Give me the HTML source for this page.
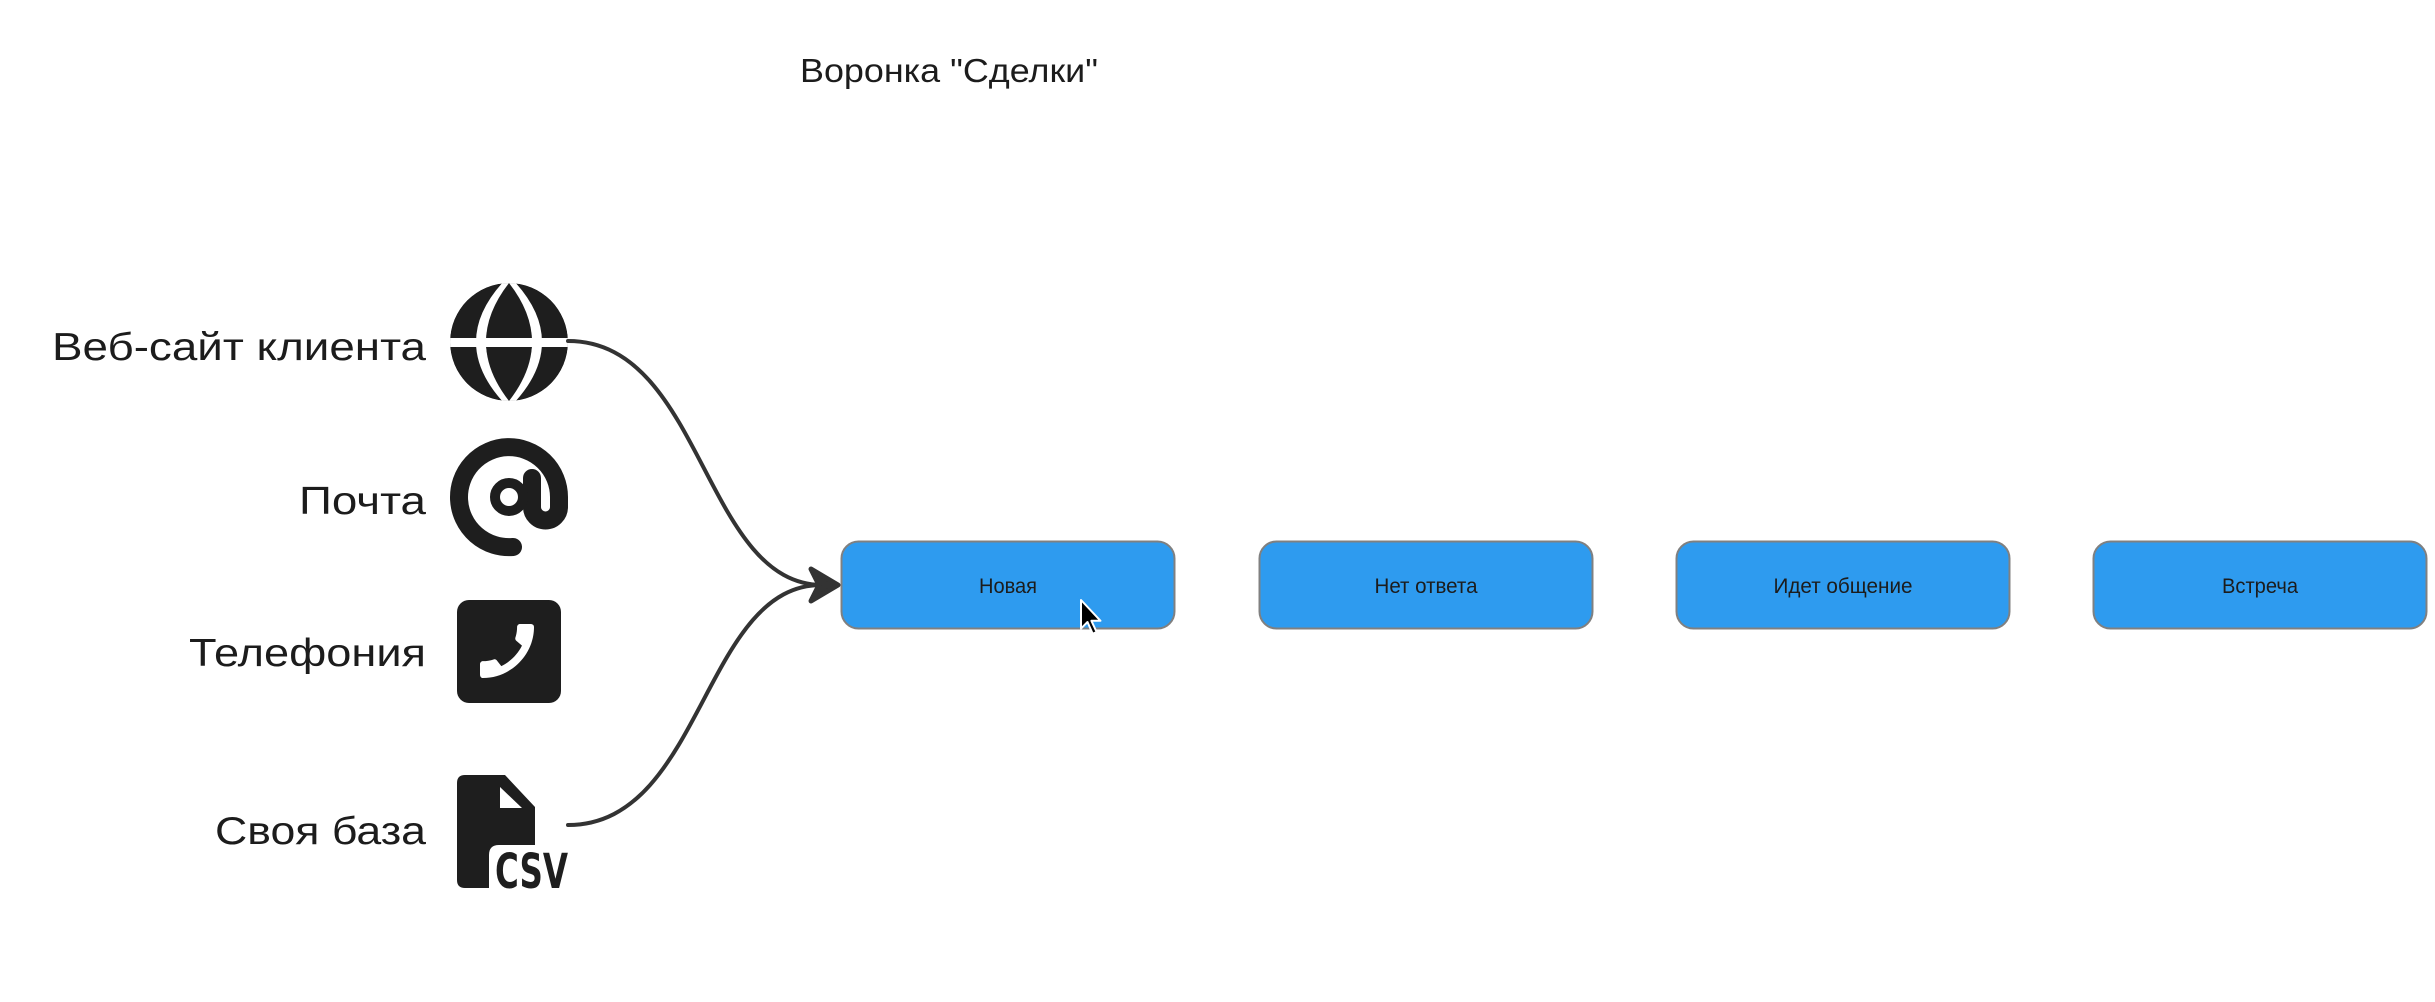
<!DOCTYPE html>
<html>
<head>
<meta charset="utf-8">
<style>
  html, body { margin:0; padding:0; background:#ffffff; }
  body { width:2435px; height:1002px; overflow:hidden; }
  svg { display:block; }
  text { font-family: "Liberation Sans", "DejaVu Sans", sans-serif; fill:#1c1c1c; }
</style>
</head>
<body>
<svg width="2435" height="1002" viewBox="0 0 2435 1002" xmlns="http://www.w3.org/2000/svg">
  <defs>
    <clipPath id="globeClip"><circle cx="509" cy="342" r="59"/></clipPath>
  </defs>

  <!-- Title -->
  <text x="800" y="82" font-size="33" textLength="298" lengthAdjust="spacingAndGlyphs">Воронка "Сделки"</text>

  <!-- Left labels -->
  <text x="426" y="360" font-size="39" text-anchor="end" textLength="374" lengthAdjust="spacingAndGlyphs">Веб-сайт клиента</text>
  <text x="426" y="514" font-size="39" text-anchor="end" textLength="127" lengthAdjust="spacingAndGlyphs">Почта</text>
  <text x="426" y="666" font-size="39" text-anchor="end" textLength="237" lengthAdjust="spacingAndGlyphs">Телефония</text>
  <text x="426" y="844" font-size="39" text-anchor="end" textLength="211" lengthAdjust="spacingAndGlyphs">Своя база</text>

  <!-- Globe icon -->
  <g clip-path="url(#globeClip)">
    <circle cx="509" cy="342" r="59" fill="#1e1e1e"/>
    <path d="M509,283 Q453,342 509,401 Q565,342 509,283 Z" fill="none" stroke="#ffffff" stroke-width="10"/>
    <path d="M509,283 Q463,342 509,401 Q555,342 509,283 Z" fill="#1e1e1e"/>
    <rect x="440" y="338" width="140" height="9" fill="#ffffff"/>
  </g>

  <!-- @ icon -->
  <g fill="none" stroke="#1e1e1e" stroke-linecap="round">
    <path d="M513,547 A50,50 0 1,1 559,497 L559,507 A13.5,13.5 0 0,1 532,507 L532,478" stroke-width="18"/>
    <circle cx="509" cy="497" r="14" stroke-width="10"/>
  </g>

  <!-- Phone icon -->
  <rect x="457" y="600" width="104" height="103" rx="12" ry="12" fill="#1e1e1e"/>
  <g transform="translate(507,651) scale(-3,3) translate(-12,-12)">
    <path fill="#ffffff" d="M20.01 15.38c-1.23 0-2.42-.2-3.530-.56-.35-.12-.74-.03-1.01.24l-1.570 1.97c-2.83-1.35-5.48-3.9-6.89-6.83l1.95-1.66c.27-.28.35-.67.24-1.02-.37-1.11-.56-2.3-.56-3.53 0-.54-.45-.99-.99-.99H4.19C3.65 3 3 3.24 3 3.99 3 13.28 10.73 21 20.01 21c.71 0 .99-.63.99-1.18v-3.45c0-.54-.45-.99-.99-.99z"/>
  </g>

  <!-- CSV file icon -->
  <path d="M465,775 L505,775 L535,807 L535,845 L499,845 Q489,845 489,855 L489,888 L465,888 Q457,888 457,880 L457,783 Q457,775 465,775 Z" fill="#1e1e1e"/>
  <path d="M500,787 L500,808 L522,808 Z" fill="#ffffff"/>
  <text x="495" y="888" font-size="48" font-weight="bold" textLength="73" lengthAdjust="spacingAndGlyphs" style="font-family:'DejaVu Sans Condensed','Liberation Sans',sans-serif;fill:#1e1e1e">CSV</text>

  <!-- Connectors -->
  <g fill="none" stroke="#333333" stroke-width="4" stroke-linecap="round">
    <path d="M568,341 C703,341 703,584 822,585"/>
    <path d="M568,825 C703,825 703,584 822,585"/>
  </g>
  <path d="M811,569 L838,585 L811,601 L819,585 Z" fill="#333333" stroke="#333333" stroke-width="5" stroke-linejoin="round"/>

  <!-- Boxes -->
  <g fill="#2e9bef" stroke="#808080" stroke-width="2">
    <rect x="841.5" y="541.5" width="333" height="87" rx="17" ry="17"/>
    <rect x="1259.5" y="541.5" width="333" height="87" rx="17" ry="17"/>
    <rect x="1676.5" y="541.5" width="333" height="87" rx="17" ry="17"/>
    <rect x="2093.5" y="541.5" width="333" height="87" rx="17" ry="17"/>
  </g>
  <g font-size="21" text-anchor="middle">
    <text x="1008" y="593" textLength="58" lengthAdjust="spacingAndGlyphs">Новая</text>
    <text x="1426" y="593" textLength="103" lengthAdjust="spacingAndGlyphs">Нет ответа</text>
    <text x="1843" y="593" textLength="139" lengthAdjust="spacingAndGlyphs">Идет общение</text>
    <text x="2260" y="593" textLength="76" lengthAdjust="spacingAndGlyphs">Встреча</text>
  </g>

  <!-- Cursor -->
  <path d="M1081,600 L1081,628.6 L1087.5,622 L1092.7,633.8 L1096.6,632 L1091.4,620.8 L1100.5,620.8 Z" fill="#000000" stroke="#ffffff" stroke-width="2" stroke-linejoin="round"/>
</svg>
</body>
</html>
